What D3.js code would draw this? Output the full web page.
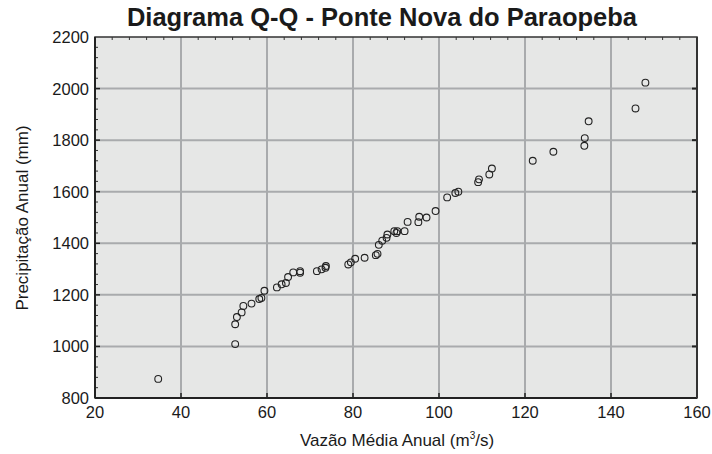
<!DOCTYPE html>
<html><head><meta charset="utf-8">
<script src="https://cdn.jsdelivr.net/npm/d3@7"></script>
<style>body{margin:0;background:#fff}svg{display:block}text{font-family:"Liberation Sans",Arial,sans-serif;fill:#1a1a1a}</style>
</head><body><svg id="c" width="712" height="454"></svg>
<script>
const vazao = [34.7,52.6,52.6,53.0,54.1,54.5,56.4,58.2,58.7,59.4,62.3,63.4,64.4,64.9,66.1,67.7,67.7,71.6,72.7,73.6,73.7,78.9,79.5,80.5,82.7,85.3,85.7,86.0,86.8,87.8,88.0,89.6,90.1,90.3,92.0,92.7,95.2,95.4,97.1,99.2,101.9,103.8,104.5,109.1,109.3,111.7,112.3,121.8,126.6,133.8,133.9,134.8,145.7,148.0];
const precip = [874,1009,1086,1114,1132,1157,1166,1184,1188,1216,1229,1241,1246,1269,1287,1286,1292,1292,1299,1305,1312,1318,1326,1340,1344,1354,1359,1394,1410,1421,1434,1447,1440,1447,1447,1483,1482,1503,1500,1525,1578,1595,1600,1637,1648,1667,1690,1720,1755,1778,1808,1873,1923,2023];
const xTicks = [20,40,60,80,100,120,140,160];
const yTicks = [800,1000,1200,1400,1600,1800,2000,2200];
const title = "Diagrama Q-Q - Ponte Nova do Paraopeba";

const svg = d3.select("#c");
const L=95,R=697,T=37,B=398;
const x = d3.scaleLinear().domain([20,160]).range([L,R]);
const y = d3.scaleLinear().domain([800,2200]).range([B,T]);

svg.append("rect").attr("x",L).attr("y",T).attr("width",R-L).attr("height",B-T).attr("fill","#e6e7e6");
// gridlines
svg.append("g").selectAll("line").data(xTicks.slice(1,-1)).join("line")
  .attr("x1",d=>x(d)).attr("x2",d=>x(d)).attr("y1",T).attr("y2",B)
  .attr("stroke","#a9abad").attr("stroke-width",2);
svg.append("g").selectAll("line").data(yTicks.slice(1,-1)).join("line")
  .attr("y1",d=>y(d)).attr("y2",d=>y(d)).attr("x1",L).attr("x2",R)
  .attr("stroke","#a9abad").attr("stroke-width",2);
// minor ticks top (x) and left (y)
const xMinor = d3.range(20,160,4).filter(v=>v%20!==0);
svg.append("g").selectAll("line").data(xMinor).join("line")
  .attr("x1",d=>x(d)).attr("x2",d=>x(d)).attr("y1",T).attr("y2",T+3)
  .attr("stroke","#333").attr("stroke-width",1);
const yMinor = d3.range(800,2200,40).filter(v=>v%200!==0);
svg.append("g").selectAll("line").data(yMinor).join("line")
  .attr("y1",d=>y(d)).attr("y2",d=>y(d)).attr("x1",L).attr("x2",L+3)
  .attr("stroke","#333").attr("stroke-width",1);
// major ticks
svg.append("g").selectAll("line").data(yTicks.slice(1,-1)).join("line")
  .attr("y1",d=>y(d)).attr("y2",d=>y(d)).attr("x1",R-5).attr("x2",R)
  .attr("stroke","#222").attr("stroke-width",2);
svg.append("g").selectAll("line").data(yTicks.slice(1,-1)).join("line")
  .attr("y1",d=>y(d)).attr("y2",d=>y(d)).attr("x1",L).attr("x2",L+5)
  .attr("stroke","#222").attr("stroke-width",1.5);
svg.append("g").selectAll("line").data(xTicks.slice(1,-1)).join("line")
  .attr("x1",d=>x(d)).attr("x2",d=>x(d)).attr("y1",B-5).attr("y2",B)
  .attr("stroke","#222").attr("stroke-width",1.5);
// frame
svg.append("rect").attr("x",L).attr("y",T).attr("width",R-L).attr("height",B-T)
  .attr("fill","none").attr("stroke","#333").attr("stroke-width",1.5);
svg.append("line").attr("x1",L).attr("x2",L).attr("y1",T).attr("y2",B).attr("stroke","#222").attr("stroke-width",2);
svg.append("line").attr("x1",L).attr("x2",R).attr("y1",B).attr("y2",B).attr("stroke","#222").attr("stroke-width",2);
svg.append("line").attr("x1",R).attr("x2",R).attr("y1",T).attr("y2",B).attr("stroke","#333").attr("stroke-width",2);

// tick labels
svg.append("g").selectAll("text").data(xTicks).join("text")
  .attr("x",d=>x(d)).attr("y",B+20).attr("text-anchor","middle")
  .attr("font-size",16.5).text(d=>d);
svg.append("g").selectAll("text").data(yTicks).join("text")
  .attr("x",L-6).attr("y",d=>y(d)+6).attr("text-anchor","end")
  .attr("font-size",16.5).text(d=>d);

// points
svg.append("g").selectAll("circle").data(vazao.map((v,i)=>[v,precip[i]])).join("circle")
  .attr("cx",d=>x(d[0])).attr("cy",d=>y(d[1])).attr("r",3.4)
  .attr("fill","none").attr("stroke","#222").attr("stroke-width",1.1);

// titles
svg.append("text").attr("x",382).attr("y",26).attr("text-anchor","middle")
  .attr("font-size",25.5).attr("font-weight","bold").text(title);
const xl = svg.append("text").attr("x",397).attr("y",446).attr("text-anchor","middle").attr("font-size",17);
xl.append("tspan").text("Vazão Média Anual (m");
xl.append("tspan").attr("font-size",10).attr("dy",-7).text("3");
xl.append("tspan").attr("dy",7).text("/s)");
svg.append("text").attr("transform","translate(28,218) rotate(-90)").attr("text-anchor","middle")
  .attr("font-size",17).text("Precipitação Anual (mm)");
</script></body></html>
